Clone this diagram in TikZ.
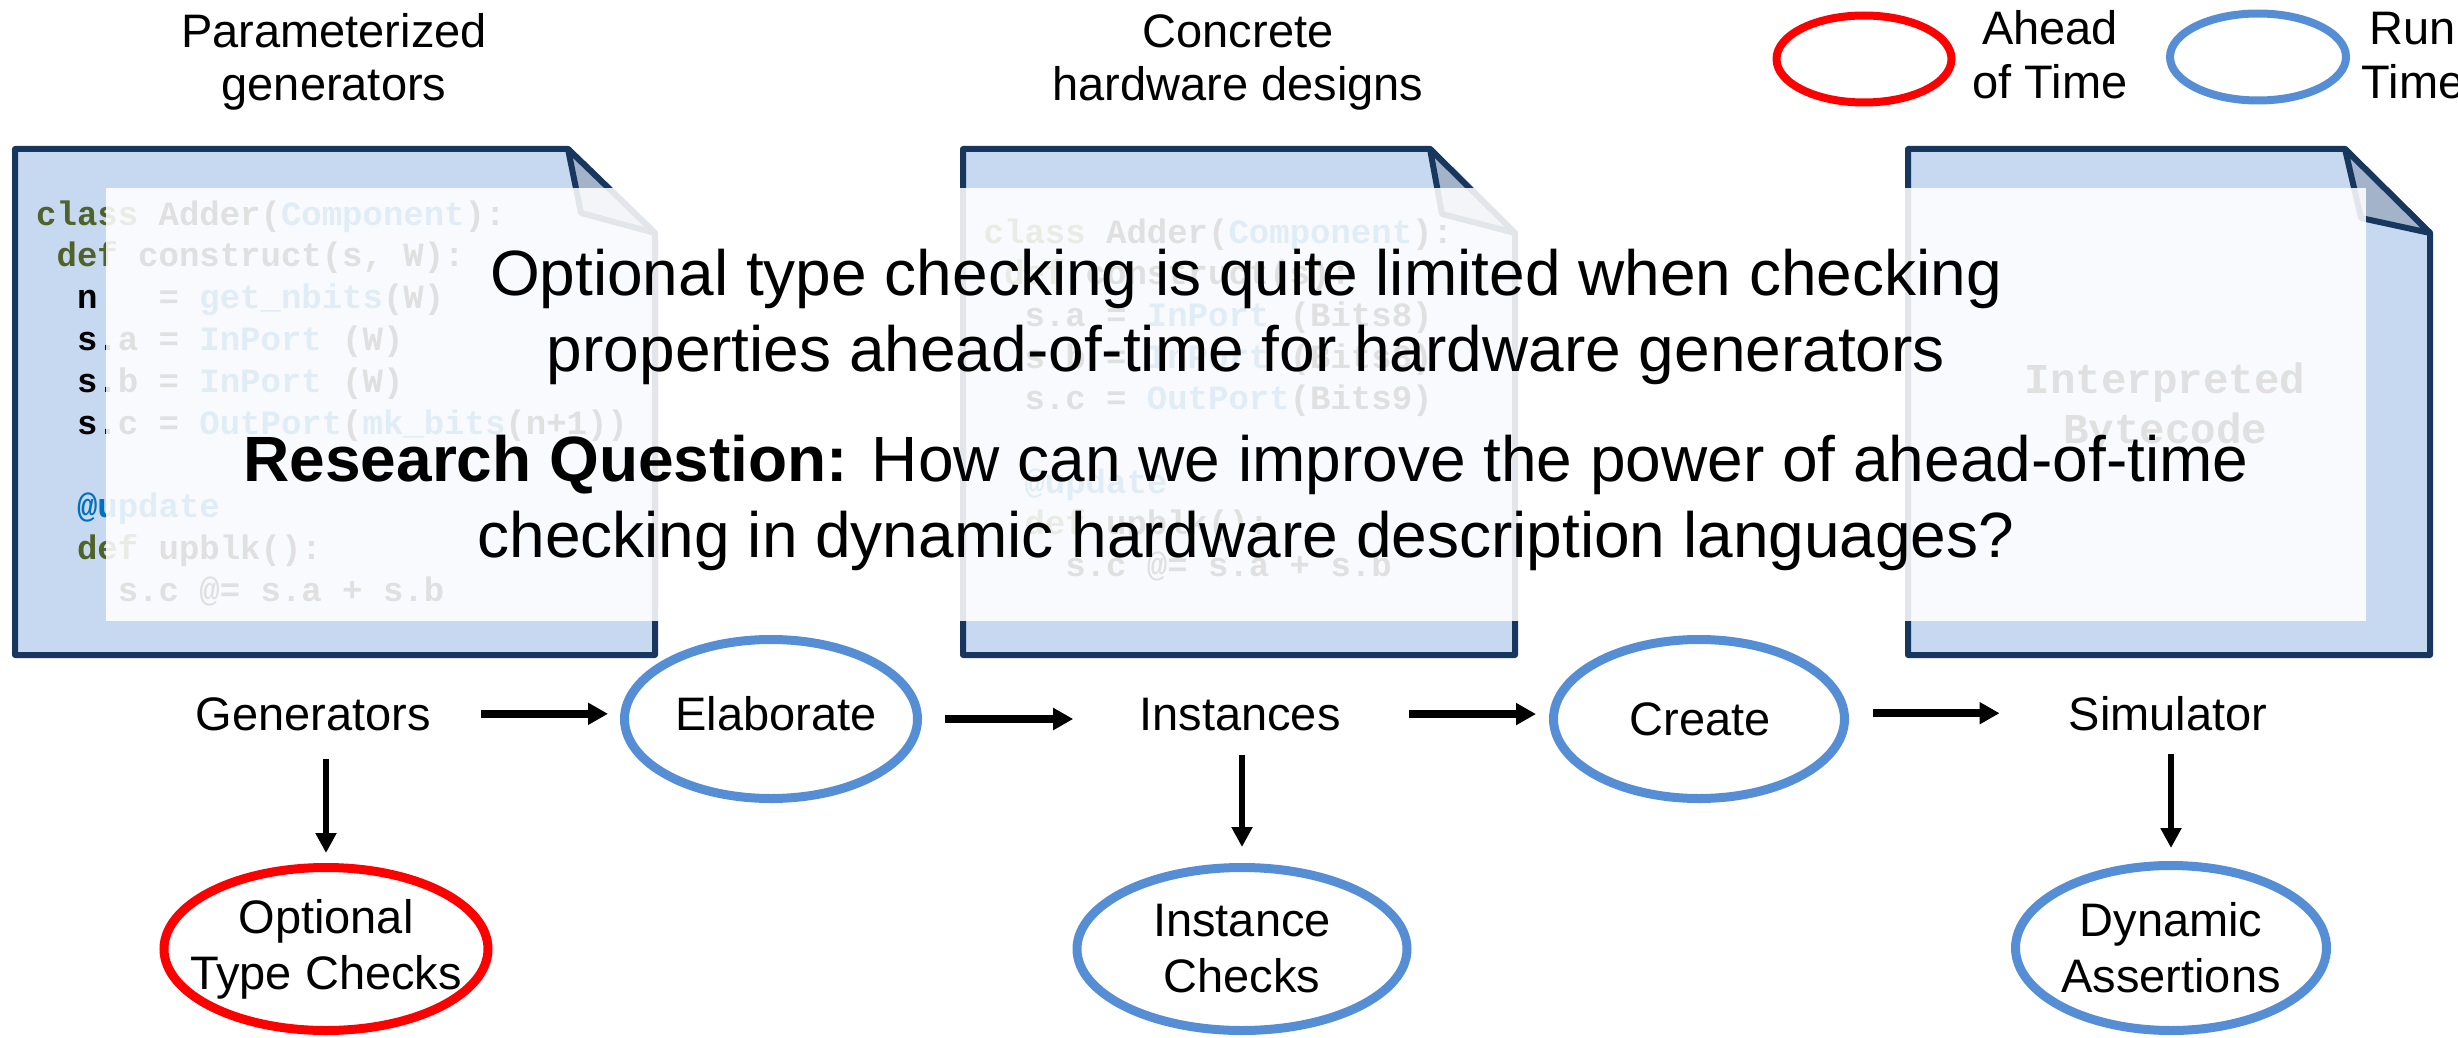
\documentclass[tikz,border=0pt]{standalone}
\usepackage{fontspec}
\setmainfont{Liberation Sans}
\newfontfamily\codefont{Liberation Mono}
\usetikzlibrary{arrows.meta, shapes.geometric}

\definecolor{docfill}{HTML}{C6D9F1}
\definecolor{docline}{HTML}{17375E}
\definecolor{foldfill}{HTML}{A3B4CA}
\definecolor{rtblue}{HTML}{558ED5}
\definecolor{aotred}{HTML}{FF0000}
\definecolor{kwgreen}{HTML}{4F6228}
\definecolor{fnblue}{HTML}{0070C0}

\newcommand{\kwd}[1]{\textcolor{kwgreen}{#1}}
\newcommand{\fnc}[1]{\textcolor{fnblue}{#1}}
\newcommand{\lblfont}{\fontsize{47}{56}\selectfont}
\newcommand{\msgfont}{\fontsize{64}{76}\selectfont}
\newcommand{\srcfont}{\codefont\bfseries\fontsize{34}{41.8}\selectfont}
\newcommand{\bcfont}{\codefont\bfseries\fontsize{42.5}{50}\selectfont}

\tikzset{
  docshape/.style={fill=docfill, draw=docline, line width=6pt, line join=round},
  foldshape/.style={fill=foldfill, draw=docline, line width=6pt, line join=round},
  srcline/.style={anchor=base west, inner sep=0pt, font=\srcfont},
  bytecode/.style={anchor=base, inner sep=0pt, font=\bcfont},
  lbl/.style={inner sep=0pt, font=\lblfont},
  msg/.style={anchor=base, inner sep=0pt, font=\msgfont},
  runtime/.style={ellipse, draw=rtblue, line width=9pt, inner sep=0pt},
  aheadtime/.style={ellipse, draw=aotred, line width=9pt, inner sep=0pt},
  harrow/.style={line width=8pt, -{Triangle[length=20pt,width=21pt]}},
  varrow/.style={line width=5.5pt, -{Triangle[length=20pt,width=20pt]}}
}

\begin{document}
\begin{tikzpicture}[x=1pt, y=-1pt]
  \path[use as bounding box, clip] (0,0) rectangle (2458,1038);
  \fill[white] (0,0) rectangle (2458,1038);

  % ---- document sheets ----
  \path[docshape] (15,149) -- (568,149) -- (655,233) -- (655,655) -- (15,655) -- cycle;
  \path[foldshape] (568,149) -- (581,213) -- (655,233) -- cycle;

  \path[docshape] (963,149) -- (1430,149) -- (1515,233) -- (1515,655) -- (963,655) -- cycle;
  \path[foldshape] (1430,149) -- (1442,214) -- (1515,233) -- cycle;

  \path[docshape] (1908,149) -- (2345,149) -- (2430,233) -- (2430,655) -- (1908,655) -- cycle;
  \path[foldshape] (2345,149) -- (2361,218) -- (2430,233) -- cycle;

  % ---- generator source ----
  \node[srcline] (a1) at (36,225)      {\kwd{class} Adder(\fnc{Component}):};
  \node[srcline] (a2) at (56.4,266.8)  {\kwd{def} construct(s, W):};
  \node[srcline] (a3) at (76.8,308.6)  {n~~~= \fnc{get\_nbits}(W)};
  \node[srcline] (a4) at (76.8,350.4)  {s.a = \fnc{InPort} (W)};
  \node[srcline] (a5) at (76.8,392.2)  {s.b = \fnc{InPort} (W)};
  \node[srcline] (a6) at (76.8,434)    {s.c = \fnc{OutPort}(\fnc{mk\_bits}(n+1))};
  \node[srcline] (a7) at (76.8,517.6)  {\fnc{@update}};
  \node[srcline] (a8) at (76.8,559.4)  {\kwd{def} upblk():};
  \node[srcline] (a9) at (117.6,601.2) {s.c @= s.a + s.b};

  % ---- elaborated instance ----
  \node[srcline] (b1) at (983.5,243)    {\kwd{class} Adder(\fnc{Component}):};
  \node[srcline] (b2) at (1003.9,284.7) {\kwd{def} construct(s):};
  \node[srcline] (b3) at (1024.3,326.4) {s.a = \fnc{InPort} (Bits8)};
  \node[srcline] (b4) at (1024.3,368.1) {s.b = \fnc{InPort} (Bits8)};
  \node[srcline] (b5) at (1024.3,409.8) {s.c = \fnc{OutPort}(Bits9)};
  \node[srcline] (b6) at (1024.3,493.2) {\fnc{@update}};
  \node[srcline] (b7) at (1024.3,534.9) {\kwd{def} upblk():};
  \node[srcline] (b8) at (1065.1,576.6) {s.c @= s.a + s.b};

  % ---- simulator ----
  \node[bytecode] (c1) at (2165,393) {Interpreted};
  \node[bytecode] (c2) at (2165,443) {Bytecode};

  % ---- translucent message panel ----
  \fill[white, fill opacity=0.88] (106,188) rectangle (2366,621);
  \node[msg] (m1) at (1246,295) {Optional type checking is quite limited when checking};
  \node[msg] (m2) at (1246,371) {properties ahead-of-time for hardware generators};
  \node[msg] (m3) at (1246,481) {\textbf{Research Question:} How can we improve the power of ahead-of-time};
  \node[msg] (m4) at (1246,557) {checking in dynamic hardware description languages?};

  % ---- column headings ----
  \node[lbl, anchor=base] (p1) at (334,48)  {Parameterized};
  \node[lbl, anchor=base] (p2) at (334,101) {generators};
  \node[lbl, anchor=base] (h1) at (1238,48)  {Concrete};
  \node[lbl, anchor=base] (h2) at (1238,101) {hardware designs};

  % ---- legend ----
  \node[aheadtime, line width=8pt, minimum width=175pt, minimum height=87pt] (aot) at (1864,59) {};
  \node[lbl, anchor=base] (aot1) at (2050,45) {Ahead};
  \node[lbl, anchor=base] (aot2) at (2050,99) {of Time};
  \node[runtime, line width=8pt, minimum width=176pt, minimum height=87pt] (rt) at (2258,57) {};
  \node[lbl, anchor=base] (rt1) at (2413,45) {Run};
  \node[lbl, anchor=base] (rt2) at (2413,99) {Time};

  % ---- flow ----
  \node[lbl, anchor=base] (gen)  at (313,730)  {Generators};
  \node[lbl, anchor=base] (inst) at (1240,730) {Instances};
  \node[lbl, anchor=base] (sim)  at (2168,730) {Simulator};

  \node[runtime, minimum width=293pt, minimum height=159pt] (elab) at (771,719) {};
  \node[lbl, anchor=base] (elabT) at (776,730) {Elaborate};
  \node[runtime, minimum width=291pt, minimum height=159pt] (create) at (1699,719) {};
  \node[lbl, anchor=base] (createT) at (1700,735) {Create};

  \node[aheadtime, minimum width=324pt, minimum height=163pt] (opt) at (326,949) {};
  \node[lbl, align=center] (optT) at (opt) {Optional\\Type Checks};
  \node[runtime, minimum width=330pt, minimum height=163pt] (ichk) at (1242,949) {};
  \node[lbl, align=center] (ichkT) at (ichk) {Instance\\Checks};
  \node[runtime, minimum width=311pt, minimum height=165pt] (dyn) at (2171,948) {};
  \node[lbl, align=center] (dynT) at (dyn) {Dynamic\\Assertions};

  \draw[harrow, shorten <=50pt, shorten >=12pt] (gen.east) -- (gen.east -| elab.west);
  \draw[harrow, shorten <=23pt, shorten >=66pt] (elab.east) -- (elab.east -| inst.west);
  \draw[harrow, shorten <=68pt, shorten >=13pt] (inst.east) -- (inst.east -| create.west);
  \draw[harrow, shorten <=24pt, shorten >=69pt] (sim.west -| create.east) -- (sim.west);

  \draw[varrow, shorten <=28pt, shorten >=10pt] (gen.south -| opt.north) -- (opt.north);
  \draw[varrow, shorten <=24pt, shorten >=16pt] (inst.south -| ichk.north) -- (ichk.north);
  \draw[varrow, shorten <=23pt, shorten >=13pt] (sim.south -| dyn.north) -- (dyn.north);
\end{tikzpicture}
\end{document}
